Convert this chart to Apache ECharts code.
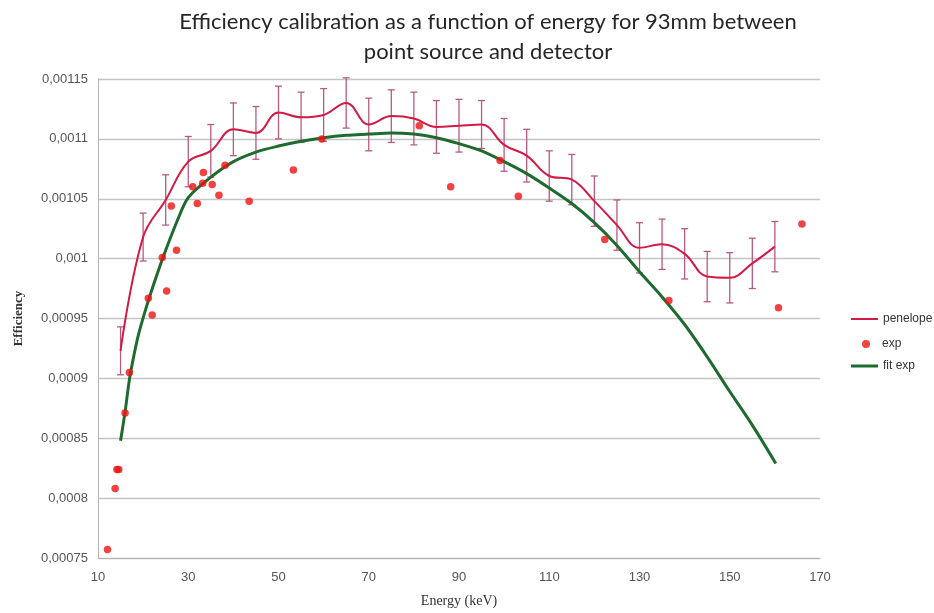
<!DOCTYPE html>
<html>
<head>
<meta charset="utf-8">
<script src="https://cdn.jsdelivr.net/npm/echarts@6/dist/echarts.min.js"></script>
<style>
html,body{margin:0;padding:0;background:#fff;}
#chart{width:934px;height:613px;}
</style>
</head>
<body>
<div id="chart"></div>
<script>
// ---- data ----
const titleText = 'Efficiency calibration as a function of energy for 93mm between\npoint source and detector';
const xTicks = [10, 30, 50, 70, 90, 110, 130, 150, 170];
const yTicks = [0.00075, 0.0008, 0.00085, 0.0009, 0.00095, 0.001, 0.00105, 0.0011, 0.00115];

// penelope simulation (energy keV, efficiency, error)
const penEnergy = [15, 20, 25, 30, 35, 40, 45, 50, 55, 60, 65, 70, 75, 80, 85, 90, 95, 100, 105, 110, 115, 120, 125, 130, 135, 140, 145, 150, 155, 160];
const penValue = [0.000923, 0.001018, 0.001049, 0.001081, 0.00109, 0.001108, 0.001105, 0.001122, 0.001118, 0.00112,
                  0.00113, 0.001112, 0.001119, 0.001117, 0.00111, 0.001111, 0.001112, 0.001095, 0.001086, 0.001069,
                  0.001066, 0.001048, 0.001028, 0.001009, 0.001012, 0.001004, 0.000985, 0.000984, 0.000996, 0.00101];
const penError = [0.00002, 0.00002, 0.000021, 0.000021, 0.000022, 0.000022, 0.000022, 0.000022, 0.000021, 0.000022,
                  0.000021, 0.000022, 0.000022, 0.000022, 0.000022, 0.000022, 0.00002, 0.000022, 0.000022, 0.000021,
                  0.000021, 0.000021, 0.000021, 0.000021, 0.000021, 0.000021, 0.000021, 0.000021, 0.000021, 0.000021];

// experimental points
const expEnergy = [12.1, 13.8, 14.2, 14.6, 16.0, 16.95, 21.15, 22.0, 24.25, 25.2, 26.25, 27.4, 31.0, 32.0, 33.2, 33.35, 35.3, 36.8, 38.15, 43.5, 53.3, 59.6, 81.2, 88.15, 99.1, 103.15, 122.3, 136.5, 160.8, 166.0];
const expValue = [0.000757, 0.000808, 0.000824, 0.000824, 0.000871, 0.000905, 0.000967, 0.000953, 0.001001, 0.000973, 0.001044, 0.001007, 0.00106, 0.001046, 0.001063, 0.001072, 0.001062, 0.001053, 0.001078, 0.001048, 0.001074, 0.0011, 0.001111, 0.00106, 0.001082, 0.001052, 0.001016, 0.000965, 0.000959, 0.001029];

// fitted curve
const fitEnergy = [15, 16, 17, 18, 19, 21, 23, 25, 27.5, 30, 35, 40, 45, 50, 55, 60, 65, 70, 75, 80, 85, 90, 95, 100, 105, 110, 115, 120, 125, 130, 135, 140, 145, 150, 155, 160.2];
const fitValue = [0.000848, 0.000872, 0.0009, 0.00092, 0.000937, 0.000963, 0.000986, 0.001007, 0.001031, 0.001051, 0.001068, 0.001081, 0.001089, 0.001094, 0.001098, 0.001101, 0.001103, 0.001104, 0.001105, 0.001104, 0.001101, 0.001096, 0.00109, 0.001081, 0.001071, 0.001059, 0.001046, 0.00103, 0.001011, 0.000989, 0.000968, 0.000945, 0.000918, 0.000889, 0.000861, 0.000829];

// ---- build chart ----
const zip = (a, b) => a.map((v, i) => [v, b[i]]);
const errData = penEnergy.map((e, i) => [e, penValue[i] - penError[i], penValue[i] + penError[i]]);

const fmtY = v => parseFloat(Number(v).toPrecision(6)).toString().replace('.', ',');

const chart = echarts.init(document.getElementById('chart'), null, {renderer: 'canvas'});
const legendText = {fontFamily: 'Liberation Sans, Arial, sans-serif', fontSize: 12, color: '#333'};

chart.setOption({
  animation: false,
  backgroundColor: '#ffffff',
  title: {
    text: titleText,
    left: 483,
    top: 2,
    textAlign: 'center',
    textStyle: {fontFamily: 'Lato, sans-serif', fontSize: 22, fontWeight: 'normal', color: '#262626', lineHeight: 30}
  },
  grid: {left: 98, right: 114, top: 79, bottom: 55},
  legend: [
    {data: [{name: 'penelope', icon: 'rect'}], orient: 'vertical', left: 851, top: 313, itemWidth: 27, itemHeight: 2, selectedMode: false, textStyle: legendText, padding: 0},
    {data: [{name: 'exp', icon: 'circle'}], orient: 'vertical', left: 862, top: 338, itemWidth: 8, itemHeight: 8, selectedMode: false, textStyle: Object.assign({}, legendText, {padding: [0, 0, 0, 7]}), padding: 0},
    {data: [{name: 'fit exp', icon: 'rect'}], orient: 'vertical', left: 851, top: 360, itemWidth: 27, itemHeight: 3, selectedMode: false, textStyle: legendText, padding: 0}
  ],
  xAxis: {
    type: 'value',
    min: xTicks[0],
    max: xTicks[xTicks.length - 1],
    interval: xTicks[1] - xTicks[0],
    name: 'Energy (keV)',
    nameLocation: 'middle',
    nameGap: 36,
    nameTextStyle: {fontFamily: 'Liberation Serif, Times New Roman, serif', fontSize: 14, color: '#333'},
    axisLine: {lineStyle: {color: '#b4b4b4', width: 1}},
    axisTick: {show: false},
    splitLine: {show: false},
    axisLabel: {fontFamily: 'Liberation Sans, Arial, sans-serif', fontSize: 13, color: '#555', margin: 13}
  },
  yAxis: {
    type: 'value',
    min: yTicks[0],
    max: yTicks[yTicks.length - 1],
    interval: 0.00005,
    name: 'Efficiency',
    nameLocation: 'middle',
    nameRotate: 90,
    nameGap: 73,
    nameTextStyle: {fontFamily: 'Liberation Serif, Times New Roman, serif', fontSize: 13, fontWeight: 'bold', color: '#333'},
    axisLine: {show: true, lineStyle: {color: '#b4b4b4', width: 1}},
    axisTick: {show: false},
    splitLine: {show: true, lineStyle: {color: '#c4c4c4', width: 1.3}},
    axisLabel: {fontFamily: 'Liberation Sans, Arial, sans-serif', fontSize: 13, color: '#555', margin: 10, formatter: fmtY}
  },
  series: [
    {
      name: 'penelope-err',
      type: 'custom',
      z: 2,
      data: errData,
      renderItem: function (params, api) {
        const x = api.value(0);
        const lo = api.coord([x, api.value(1)]);
        const hi = api.coord([x, api.value(2)]);
        const cap = 3.5;
        const st = {stroke: '#b85a80', lineWidth: 1.3};
        return {
          type: 'group',
          children: [
            {type: 'line', shape: {x1: lo[0], y1: lo[1], x2: hi[0], y2: hi[1]}, style: st},
            {type: 'line', shape: {x1: hi[0] - cap, y1: hi[1], x2: hi[0] + cap, y2: hi[1]}, style: st},
            {type: 'line', shape: {x1: lo[0] - cap, y1: lo[1], x2: lo[0] + cap, y2: lo[1]}, style: st}
          ]
        };
      }
    },
    {
      name: 'penelope',
      type: 'line',
      z: 3,
      data: zip(penEnergy, penValue),
      smooth: 0.4,
      showSymbol: false,
      color: '#d21a45',
      lineStyle: {color: '#d21a45', width: 2},
      itemStyle: {color: '#d21a45'}
    },
    {
      name: 'fit exp',
      type: 'line',
      z: 4,
      data: zip(fitEnergy, fitValue),
      smooth: 0.3,
      showSymbol: false,
      color: '#1f6b2f',
      lineStyle: {color: '#1f6b2f', width: 3},
      itemStyle: {color: '#1f6b2f'}
    },
    {
      name: 'exp',
      type: 'scatter',
      z: 5,
      data: zip(expEnergy, expValue),
      symbol: 'circle',
      symbolSize: 7.5,
      color: '#ee1111',
      itemStyle: {color: '#ee1111'}
    }
  ]
});
</script>
</body>
</html>
